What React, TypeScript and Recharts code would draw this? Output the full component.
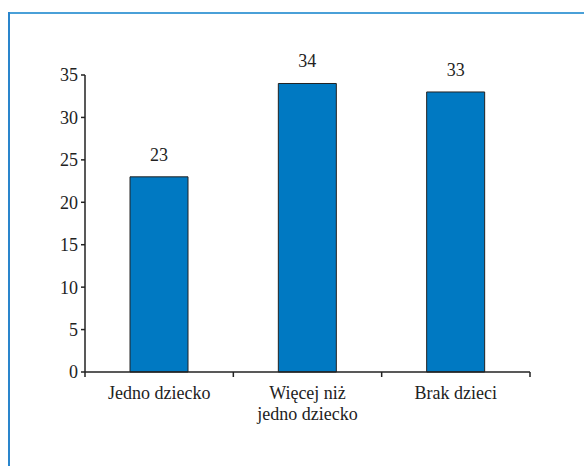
import { BarChart, Bar, XAxis, YAxis, LabelList } from 'recharts'

// Households by number of children (%)
const categories = ['Jedno dziecko', 'Więcej niż\njedno dziecko', 'Brak dzieci']
const values = [23, 34, 33]
const yTicks = [0, 5, 10, 15, 20, 25, 30, 35]

const data = categories.map((name, i) => ({ name, value: values[i] }))

const FONT = "'Liberation Serif', 'Times New Roman', Times, serif"
const INK = '#222'

// category label (split on "\n") plus the small marks at the band edges
function CategoryTick(props: any) {
  const { x, y, payload, index, visibleTicksCount } = props
  const half = payload.offset ?? 0
  const lines = String(payload.value).split('\n')
  const last = index === visibleTicksCount - 1
  return (
    <g>
      <line x1={x - half} x2={x - half} y1={y} y2={y + 5} stroke={INK} strokeWidth={1.5} />
      {last && <line x1={x + half} x2={x + half} y1={y} y2={y + 5} stroke={INK} strokeWidth={1.5} />}
      <text x={x} y={y} textAnchor="middle" fill={INK} style={{ fontFamily: FONT, fontSize: 18 }}>
        {lines.map((line, i) => (
          <tspan key={i} x={x} dy={i === 0 ? 27 : 21}>
            {line}
          </tspan>
        ))}
      </text>
    </g>
  )
}

export default function App() {
  return (
    <div
      style={{
        position: 'fixed',
        left: 0,
        top: 0,
        width: 584,
        height: 466,
        background: '#fff',
        fontFamily: FONT,
      }}
    >
      {/* frame */}
      <div style={{ position: 'absolute', left: 9, top: 12, right: 0, height: 2, background: '#4aa0d8' }} />
      <div style={{ position: 'absolute', left: 8, top: 12, width: 2, bottom: 0, background: '#2a85cc' }} />

      <div style={{ position: 'absolute', left: 0, top: 0 }}>
        <BarChart
          width={584}
          height={466}
          data={data}
          margin={{ top: 75, right: 54, bottom: 34, left: 45 }}
          style={{ fontFamily: FONT }}
        >
          <YAxis
            type="number"
            domain={[0, 35]}
            ticks={yTicks}
            width={40}
            tickSize={4}
            tickMargin={3}
            stroke={INK}
            strokeWidth={1.5}
            tick={{ fill: INK, fontSize: 18, style: { fontFamily: FONT } }}
          />
          <XAxis
            dataKey="name"
            height={60}
            stroke={INK}
            strokeWidth={1.5}
            tickLine={false}
            tickSize={0}
            tickMargin={0}
            interval={0}
            tick={<CategoryTick />}
          />
          <Bar
            dataKey="value"
            fill="#0079c2"
            stroke={INK}
            strokeWidth={1}
            barSize={58}
            isAnimationActive={false}
          >
            <LabelList
              dataKey="value"
              position="top"
              offset={16}
              fill={INK}
              fontSize={18}
              style={{ fontFamily: FONT }}
            />
          </Bar>
        </BarChart>
      </div>
    </div>
  )
}
